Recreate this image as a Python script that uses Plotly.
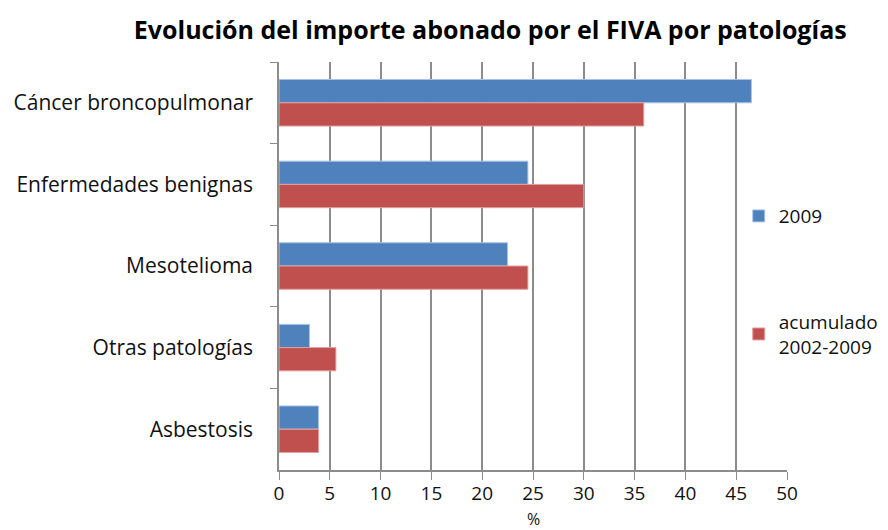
import plotly.graph_objects as go

categories = ["Cáncer broncopulmonar", "Enfermedades benignas", "Mesotelioma", "Otras patologías", "Asbestosis"]
values_2009 = [46.5, 24.5, 22.5, 3.0, 3.9]
values_acum = [35.9, 30.0, 24.5, 5.6, 3.9]
series_names = ["2009", "acumulado<br>2002-2009"]
x_ticks = [0, 5, 10, 15, 20, 25, 30, 35, 40, 45, 50]

FONT = "Open Sans"

fig = go.Figure()
fig.add_trace(go.Bar(y=categories, x=values_2009, orientation="h", name=series_names[0],
                     marker=dict(color="#4F81BD", line=dict(color="#A9C4E8", width=1)),
                     legendgroup="a"))
fig.add_trace(go.Bar(y=categories, x=values_acum, orientation="h", name=series_names[1],
                     marker=dict(color="#C0504D", line=dict(color="#E0A0A0", width=1)),
                     legendgroup="b"))

fig.update_layout(
    width=880, height=522,
    paper_bgcolor="white", plot_bgcolor="white",
    margin=dict(l=271, r=101, t=54, b=60, autoexpand=False),
    barmode="group", bargap=0.43, bargroupgap=0,
    font=dict(family=FONT, size=21, color="#111111"),
    title=dict(text="<b>Evolución del importe abonado por el FIVA por patologías</b>",
               x=0.548, xanchor="center", y=0.958, yanchor="middle",
               font=dict(family=FONT, size=25, color="#000000")),
    legend=dict(x=0.905, xanchor="left", y=0.669, yanchor="top",
                bgcolor="white", tracegroupgap=78, itemwidth=30,
                font=dict(family=FONT, size=19, color="#111111")),
    showlegend=True,
    annotations=[dict(text="%", x=25, xref="x", y=-0.12, yref="paper",
                      xanchor="center", yanchor="middle", showarrow=False,
                      font=dict(family=FONT, size=16, color="#111111"))],
)
fig.update_xaxes(range=[0, 50], tickvals=x_ticks, showgrid=True, gridcolor="#8C8C8C", gridwidth=1.5,
                 showline=True, linecolor="#8C8C8C", linewidth=1.5, ticks="outside", ticklen=8,
                 tickcolor="#8C8C8C", zeroline=False, ticklabelstandoff=-3, automargin=False,
                 tickfont=dict(size=19))
fig.update_yaxes(categoryorder="array", categoryarray=categories, autorange="reversed",
                 showgrid=False, showline=True, linecolor="#8C8C8C", linewidth=1.5,
                 ticks="outside", ticklen=7, tickcolor="#8C8C8C", tickson="boundaries",
                 ticklabelstandoff=20, automargin=False)

fig.write_html("out.html")
